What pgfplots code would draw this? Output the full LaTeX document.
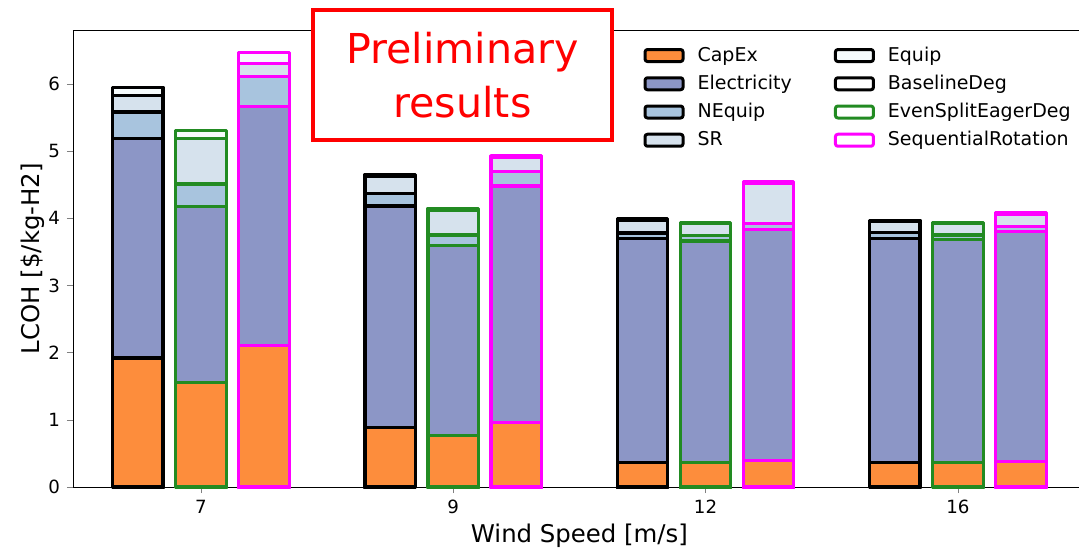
\documentclass[border=0pt]{standalone}
\usepackage{pgfplots}
\pgfplotsset{compat=1.18}
\usepackage{pgfplotstable}
\usepackage{fontspec}
\setmainfont{DejaVu Sans}
\definecolor{cCap}{RGB}{253,141,60}
\definecolor{cElec}{RGB}{140,150,198}
\definecolor{cNEq}{RGB}{168,196,222}
\definecolor{cSR}{RGB}{214,226,237}
\definecolor{cEq}{RGB}{246,251,252}
\definecolor{cGreen}{RGB}{34,139,34}
\definecolor{cMag}{RGB}{255,0,255}

\pgfplotstableread{
x cap elec nequip sr equip
0 1.92 3.26 0.40 0.24 0.13
1 0.89 3.29 0.19 0.25 0.03
2 0.37 3.33 0.08 0.18 0.03
3 0.37 3.33 0.09 0.16 0.02
}\tblBase
\pgfplotstableread{
x cap elec nequip sr equip
0 1.56 2.61 0.34 0.67 0.12
1 0.77 2.82 0.16 0.37 0.03
2 0.37 3.29 0.08 0.18 0.02
3 0.37 3.31 0.07 0.17 0.02
}\tblEven
\pgfplotstableread{
x cap elec nequip sr equip
0 2.11 3.55 0.45 0.19 0.16
1 0.96 3.52 0.21 0.22 0.02
2 0.40 3.43 0.09 0.60 0.02
3 0.38 3.42 0.08 0.18 0.02
}\tblSeq

\newcommand{\strategy}[3]{%
\addplot[fill=cEq, draw=#2, bar shift=#3, forget plot] table[x=x, y expr=\thisrow{cap}+\thisrow{elec}+\thisrow{nequip}+\thisrow{sr}+\thisrow{equip}] {#1};
\addplot[fill=cSR, draw=#2, bar shift=#3, forget plot] table[x=x, y expr=\thisrow{cap}+\thisrow{elec}+\thisrow{nequip}+\thisrow{sr}] {#1};
\addplot[fill=cNEq, draw=#2, bar shift=#3, forget plot] table[x=x, y expr=\thisrow{cap}+\thisrow{elec}+\thisrow{nequip}] {#1};
\addplot[fill=cElec, draw=#2, bar shift=#3, forget plot] table[x=x, y expr=\thisrow{cap}+\thisrow{elec}] {#1};
\addplot[fill=cCap, draw=#2, bar shift=#3, forget plot] table[x=x, y=cap] {#1};
}

\pgfplotsset{
  mybox/.style={legend image code/.code={\draw[##1, line width=1.5pt, rounded corners=1.2pt] (0pt,-3pt) rectangle (19pt,3pt);}},
}

\begin{document}
\begin{tikzpicture}
\useasboundingbox (-36.5pt,-30.5pt) rectangle (503pt,243.5pt);
\begin{axis}[
  scale only axis,
  width=506.4pt, height=228.5pt,
  xmin=-0.507, xmax=3.507,
  ymin=0, ymax=6.8,
  ybar, bar width=0.2,
  clip=false,
  axis x line*=box, axis y line*=left,
  xtick pos=bottom, ytick pos=left,
  tick align=outside,
  major tick length=3pt,
  xtick={0,1,2,3}, xticklabels={7,9,12,16},
  ytick={0,1,2,3,4,5,6},
  /pgf/number format/assume math mode=true,
  tick label style={font=\fontsize{9.1}{10}\selectfont},
  xlabel={Wind Speed [m/s]},
  ylabel={LCOH [\$/kg-H2]},
  label style={font=\fontsize{12.2}{14}\selectfont},
  xlabel style={yshift=2pt},
  ylabel style={yshift=-5pt},
  every axis plot/.append style={line width=1.6pt, line join=round},
  legend columns=4, transpose legend,
  legend cell align=left,
  legend style={at={(0.557,0.9816)}, anchor=north west, draw=none, fill=none,
    font=\fontsize{9.5}{11.5}\selectfont, row sep=1.4pt,
    /tikz/every even column/.append style={column sep=19pt},
    /tikz/every odd column/.append style={column sep=4.5pt}},
]
\strategy{\tblBase}{black}{-0.25}
\strategy{\tblEven}{cGreen}{0}
\strategy{\tblSeq}{cMag}{0.25}
\addlegendimage{mybox, fill=cCap, draw=black}
\addlegendentry{CapEx}
\addlegendimage{mybox, fill=cElec, draw=black}
\addlegendentry{Electricity}
\addlegendimage{mybox, fill=cNEq, draw=black}
\addlegendentry{NEquip}
\addlegendimage{mybox, fill=cSR, draw=black}
\addlegendentry{SR}
\addlegendimage{mybox, fill=cEq, draw=black}
\addlegendentry{Equip}
\addlegendimage{mybox, fill=white, draw=black}
\addlegendentry{BaselineDeg}
\addlegendimage{mybox, fill=white, draw=cGreen}
\addlegendentry{EvenSplitEagerDeg}
\addlegendimage{mybox, fill=white, draw=cMag}
\addlegendentry{SequentialRotation}
\node[draw=red, line width=2pt, fill=white, text=red, minimum width=149.5pt, minimum height=65pt,
  align=center, font=\fontsize{20.6}{27}\selectfont, inner sep=0pt]
  at (rel axis cs:0.3846,0.9015) {Preliminary\\results};
\end{axis}
\end{tikzpicture}
\end{document}
